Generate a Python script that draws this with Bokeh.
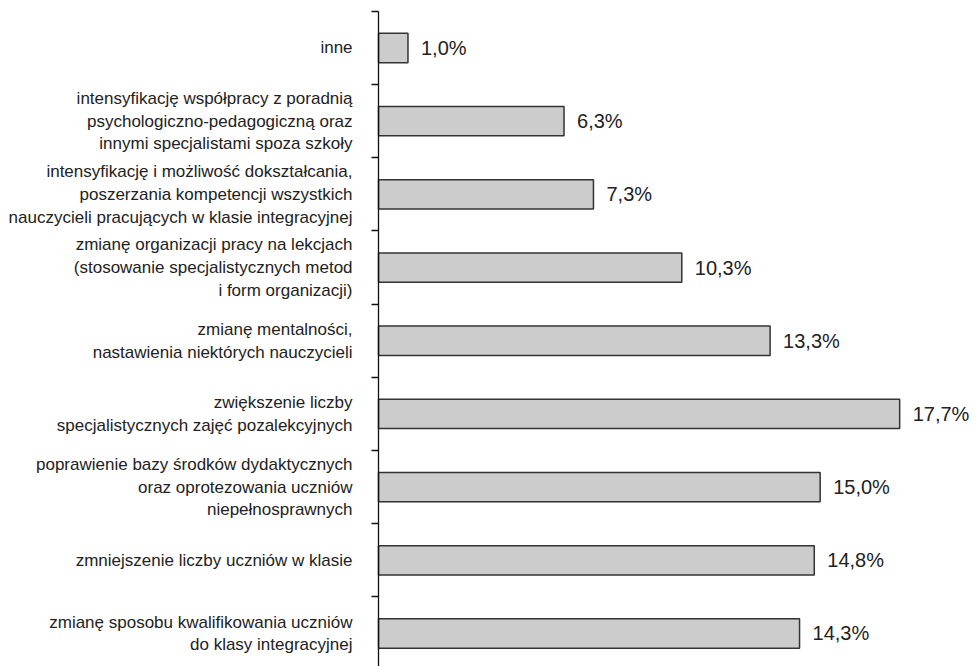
from bokeh.plotting import figure
from bokeh.models import ColumnDataSource, FixedTicker, Range1d
from bokeh.core.properties import value
from bokeh.embed import file_html
from bokeh.resources import INLINE

# data (top to bottom)
categories = [
    "inne",
    "intensyfikację współpracy z poradnią\npsychologiczno-pedagogiczną oraz\ninnymi specjalistami spoza szkoły",
    "intensyfikację i możliwość dokształcania,\nposzerzania kompetencji wszystkich\nnauczycieli pracujących w klasie integracyjnej",
    "zmianę organizacji pracy na lekcjach\n(stosowanie specjalistycznych metod\ni form organizacji)",
    "zmianę mentalności,\nnastawienia niektórych nauczycieli",
    "zwiększenie liczby\nspecjalistycznych zajęć pozalekcyjnych",
    "poprawienie bazy środków dydaktycznych\noraz oprotezowania uczniów\nniepełnosprawnych",
    "zmniejszenie liczby uczniów w klasie",
    "zmianę sposobu kwalifikowania uczniów\ndo klasy integracyjnej",
]
values = [1.0, 6.3, 7.3, 10.3, 13.3, 17.7, 15.0, 14.8, 14.3]
value_labels = ["1,0%", "6,3%", "7,3%", "10,3%", "13,3%", "17,7%", "15,0%", "14,8%", "14,3%"]

n = len(categories)
ypos = [n - 1 - i for i in range(n)]

src = ColumnDataSource(dict(y=ypos, v=values, cat=categories, lab=value_labels,
                            zero=[0] * n))

W, H = 976, 666
p = figure(width=W, height=H, output_backend="svg", toolbar_location=None,
           x_range=Range1d(-12.84, 20.31), y_range=Range1d(-0.451, 8.649),
           min_border=0, min_border_left=0, min_border_right=0,
           min_border_top=0, min_border_bottom=0)
p.outline_line_color = None
p.grid.visible = False
p.xaxis.visible = False
p.background_fill_color = "white"
p.border_fill_color = "white"

yax = p.yaxis[0]
yax.fixed_location = 0
yax.ticker = FixedTicker(ticks=[i + 0.5 for i in range(-1, n)])
yax.bounds = (-0.5, 8.5)
yax.major_label_text_font_size = "0px"
yax.major_label_text_color = None
yax.major_tick_out = 7
yax.major_tick_in = 0
yax.minor_tick_line_color = None
yax.axis_line_color = "#111111"
yax.axis_line_width = 1.3
yax.major_tick_line_color = "#111111"
yax.major_tick_line_width = 1.3

p.hbar(y="y", left="zero", right="v", height=0.4, source=src,
       fill_color="#cccccc", line_color="#333333", line_width=1.5)

p.text(x="v", y="y", text="lab", source=src, x_offset=13,
       text_font=value("Liberation Sans"), text_font_size="20px",
       text_color="#222222", text_baseline="middle", text_align="left")

p.text(x="zero", y="y", text="cat", source=src, x_offset=-26,
       text_font=value("Liberation Sans"), text_font_size="17px",
       text_color="#222222", text_baseline="middle", text_align="right",
       text_line_height=1.2)

open("out.html", "w").write(file_html(p, INLINE))
